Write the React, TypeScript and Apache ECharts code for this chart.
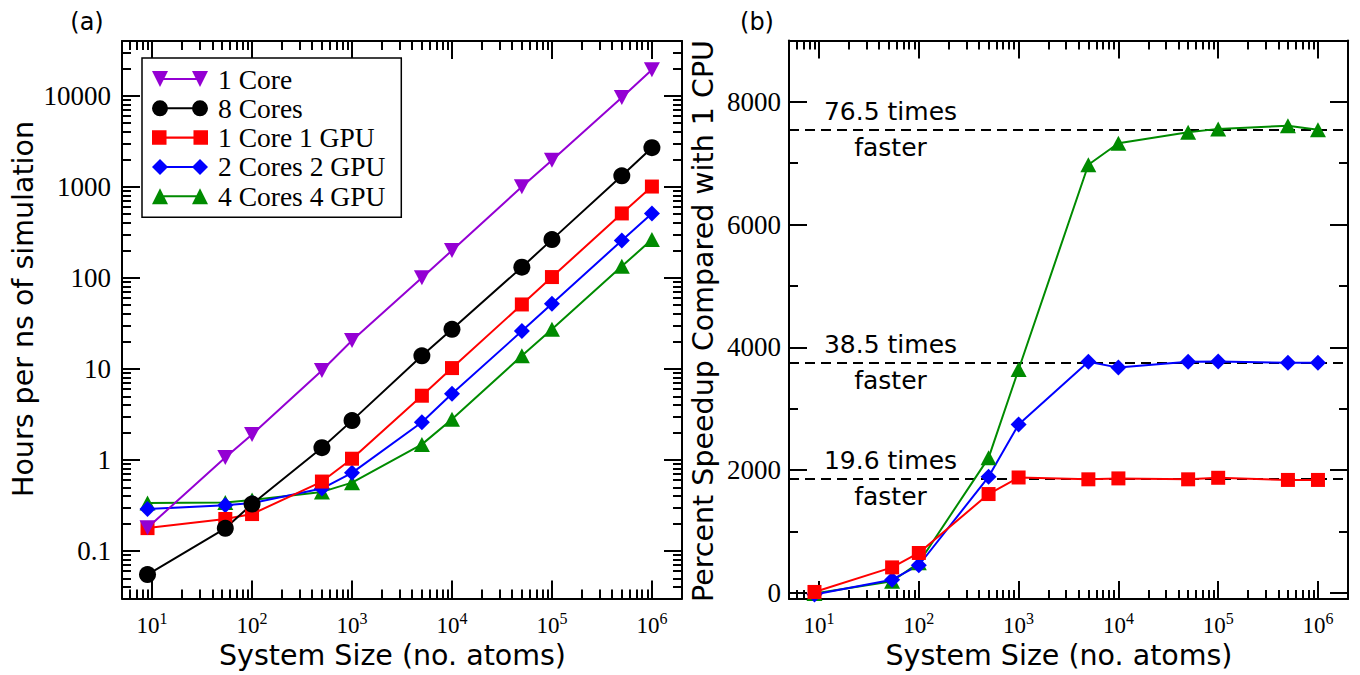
import React, { useEffect, useRef } from 'react';
import * as echarts from 'echarts';

// ---------------- data ----------------
const systemSizes = [9, 54, 100, 500, 1000, 5000, 10000, 50000, 100000, 500000, 1000000];

const seriesNames = ['1 Core', '8 Cores', '1 Core 1 GPU', '2 Cores 2 GPU', '4 Cores 4 GPU'];

const hours1Core = [0.18, 1.06, 1.9, 9.6, 20.5, 100, 200, 1000, 1960, 9600, 19300];
const hours8Cores = [0.055, 0.177, 0.327, 1.36, 2.7, 13.9, 27.2, 131, 263, 1320, 2690];
const hours1Core1Gpu = [0.178, 0.224, 0.254, 0.578, 1.03, 5.07, 10.2, 51, 102, 510, 1007];
const hours2Cores2Gpu = [0.288, 0.318, 0.335, 0.484, 0.72, 2.59, 5.33, 26, 52, 257, 510];
const hours4Cores4Gpu = [0.335, 0.34, 0.363, 0.445, 0.562, 1.48, 2.8, 13.9, 27.2, 134, 263];

const speedup1Core1Gpu = [15, 415, 650, 1610, 1880, 1850, 1865, 1850, 1875, 1840, 1840];
const speedup2Cores2Gpu = [-25, 215, 450, 1890, 2745, 3765, 3670, 3765, 3770, 3750, 3750];
const speedup4Cores4Gpu = [-10, 190, 490, 2200, 3640, 6975, 7325, 7505, 7560, 7612, 7545];

const plateauLevels = [7550, 3750, 1860];
const plateauLabels = ['76.5 times', '38.5 times', '19.6 times'];
const plateauLabelX = 52;

const xMajorTicks = [10, 100, 1000, 10000, 100000, 1000000];
const yMajorTicksA = [0.1, 1, 10, 100, 1000, 10000];
const yMajorTicksB = [0, 2000, 4000, 6000, 8000];
const yMinorTicksB = [1000, 3000, 5000, 7000, 9000];

const X_MIN = 5;
const X_MAX = 2e6;
const YA_MIN = 0.03;
const YA_MAX = 40000;
const YB_MIN = -100;
const YB_MAX = 9000;

// ---------------- styling ----------------
const SERIF = 'Liberation Serif';
const SANS = 'DejaVu Sans';
const colors = ['#9400d3', '#000000', '#ff0000', '#0000ff', '#008b00'];

const legendIcons = [
  'path://M0,0L16,0L8,16ZM8,7H48V9H8ZM40,0L56,0L48,16Z',
  'path://M0,8A8,8,0,1,1,16,8A8,8,0,1,1,0,8ZM8,7H48V9H8ZM40,8A8,8,0,1,1,56,8A8,8,0,1,1,40,8Z',
  'path://M1,1H15V15H1ZM8,7H48V9H8ZM41,1H55V15H41Z',
  'path://M0,8L8,0L16,8L8,16ZM8,7H48V9H8ZM40,8L48,0L56,8L48,16Z',
  'path://M0,16L8,0L16,16ZM8,7H48V9H8ZM40,16L48,0L56,16Z',
];

function logMinorTicks(min: number, max: number): number[] {
  const out: number[] = [];
  const e0 = Math.floor(Math.log10(min));
  const e1 = Math.ceil(Math.log10(max));
  for (let e = e0; e <= e1; e++) {
    for (let k = 2; k <= 9; k++) {
      const v = Number((k * Math.pow(10, e)).toPrecision(6));
      if (v >= min * 0.9999 && v <= max * 1.0001) out.push(v);
    }
  }
  return out;
}

const xMinorTicks = logMinorTicks(X_MIN, X_MAX);
const yMinorTicksA = logMinorTicks(YA_MIN, YA_MAX);

const tickLine = { color: '#000', width: 2 };

function makeAxes(
  gridIndex: number,
  base: any,
  majorTicks: number[],
  minorTicks: number[],
  positions: string[],
  label: any
) {
  const axes: any[] = [];
  positions.forEach((position, pi) => {
    axes.push({
      ...base,
      gridIndex,
      position,
      axisLine: { show: true, onZero: false, lineStyle: { color: '#000', width: 2 } },
      axisTick: { show: true, inside: true, length: 18, customValues: majorTicks, lineStyle: tickLine },
      axisLabel: pi === 0 ? { ...label, show: true, customValues: majorTicks } : { show: false },
      splitLine: { show: false },
      minorTick: { show: false },
      axisPointer: { show: false },
    });
    axes.push({
      ...base,
      gridIndex,
      position,
      axisLine: { show: false, onZero: false },
      axisTick: { show: true, inside: true, length: 9, customValues: minorTicks, lineStyle: tickLine },
      axisLabel: { show: false },
      splitLine: { show: false },
      minorTick: { show: false },
      axisPointer: { show: false },
    });
  });
  return axes;
}

const xLabel = {
  margin: 11.5,
  formatter: (v: number) => `{b|10}{s|${Math.round(Math.log10(v))}}`,
  rich: {
    b: { fontFamily: SERIF, fontSize: 23, color: '#000', lineHeight: 30 },
    s: { fontFamily: SERIF, fontSize: 16, color: '#000', lineHeight: 14, verticalAlign: 'top' },
  },
};

const yLabelA = {
  margin: 11,
  fontFamily: SERIF,
  fontSize: 27,
  color: '#000',
  formatter: (v: number) => String(Math.round(v * 1000) / 1000),
};

const yLabelB = {
  margin: 8,
  fontFamily: SERIF,
  fontSize: 27,
  color: '#000',
  formatter: (v: number) => String(Math.round(v)),
};

function lineSeries(
  name: string,
  values: number[],
  color: string,
  symbol: string,
  symbolSize: any,
  symbolRotate: number,
  axisIndex: number
) {
  return {
    type: 'line',
    name,
    xAxisIndex: axisIndex,
    yAxisIndex: axisIndex,
    data: systemSizes.map((x, i) => [x, values[i]]),
    symbol,
    symbolSize,
    symbolRotate,
    showSymbol: true,
    showAllSymbol: true,
    lineStyle: { color, width: 2 },
    itemStyle: { color, borderWidth: 0 },
    emphasis: { disabled: true },
    z: 2,
  };
}

function buildOption(): any {
  const xBase = { type: 'log', logBase: 10, min: X_MIN, max: X_MAX };
  const yBaseA = { type: 'log', logBase: 10, min: YA_MIN, max: YA_MAX };
  const yBaseB = { type: 'value', min: YB_MIN, max: YB_MAX };

  const xAxes = [
    ...makeAxes(0, xBase, xMajorTicks, xMinorTicks, ['bottom', 'top'], xLabel),
    ...makeAxes(1, xBase, xMajorTicks, xMinorTicks, ['bottom', 'top'], xLabel),
  ];
  const yAxes = [
    ...makeAxes(0, yBaseA, yMajorTicksA, yMinorTicksA, ['left', 'right'], yLabelA),
    ...makeAxes(1, yBaseB, yMajorTicksB, yMinorTicksB, ['left', 'right'], yLabelB),
  ];
  // axis indices: grid 0 -> 0..3, grid 1 -> 4..7 ; first of each group carries labels
  const leftSeries = [
    lineSeries(seriesNames[4], hours4Cores4Gpu, colors[4], 'triangle', [16, 15], 0, 0),
    lineSeries(seriesNames[3], hours2Cores2Gpu, colors[3], 'diamond', 16, 0, 0),
    lineSeries(seriesNames[2], hours1Core1Gpu, colors[2], 'rect', 14, 0, 0),
    lineSeries(seriesNames[1], hours8Cores, colors[1], 'circle', 17, 0, 0),
    lineSeries(seriesNames[0], hours1Core, colors[0], 'triangle', [16, 15], 180, 0),
  ];

  const green = lineSeries('Speedup ' + seriesNames[4], speedup4Cores4Gpu, colors[4], 'triangle', [16, 15], 0, 4);
  const blue = lineSeries('Speedup ' + seriesNames[3], speedup2Cores2Gpu, colors[3], 'diamond', 16, 0, 4);
  const red: any = lineSeries('Speedup ' + seriesNames[2], speedup1Core1Gpu, colors[2], 'rect', 14, 0, 4);
  red.markLine = {
    silent: true,
    z: 1,
    symbol: ['none', 'none'],
    lineStyle: { color: '#000', width: 2, type: [10, 6] },
    label: { show: false },
    emphasis: { disabled: true },
    data: plateauLevels.map((v) => ({ yAxis: v })),
  };
  red.markPoint = {
    silent: true,
    symbol: 'circle',
    symbolSize: 0,
    itemStyle: { color: 'rgba(0,0,0,0)' },
    label: {
      show: true,
      position: 'inside',
      color: '#000',
      fontFamily: SANS,
      fontSize: 25,
      lineHeight: 36,
      align: 'center',
      textBorderWidth: 0,
    },
    data: plateauLevels.map((v, i) => ({
      coord: [plateauLabelX, v],
      value: v,
      label: { formatter: plateauLabels[i] + '\nfaster' },
    })),
  };

  const titleStyle = {
    fontFamily: SANS,
    fontSize: 28.5,
    lineHeight: 20,
    fill: '#000',
    align: 'center',
    verticalAlign: 'middle',
  };

  return {
    animation: false,
    backgroundColor: '#ffffff',
    grid: [
      { left: 122, top: 41, width: 560, height: 557.5, containLabel: false, outerBoundsMode: 'none' },
      { left: 789, top: 40.5, width: 559, height: 558.5, containLabel: false, outerBoundsMode: 'none' },
    ],
    xAxis: xAxes,
    yAxis: yAxes,
    legend: {
      show: true,
      orient: 'vertical',
      left: 142,
      top: 58,
      data: seriesNames.map((n, i) => ({ name: n, icon: legendIcons[i] })),
      itemWidth: 56,
      itemHeight: 16,
      itemGap: 1.3,
      padding: [7, 16, 7, 10],
      borderColor: '#000',
      borderWidth: 1.5,
      borderRadius: 0,
      backgroundColor: '#ffffff',
      selectedMode: false,
      textStyle: { fontFamily: SERIF, fontSize: 27.5, color: '#000', padding: [0, 0, 0, 5] },
    },
    series: [...leftSeries, green, blue, red],
    graphic: [
      { type: 'text', x: 87, y: 22, style: { ...titleStyle, text: '(a)', fontSize: 24 } },
      { type: 'text', x: 757, y: 22, style: { ...titleStyle, text: '(b)', fontSize: 24 } },
      { type: 'text', x: 392.5, y: 655.5, style: { ...titleStyle, text: 'System Size (no. atoms)' } },
      { type: 'text', x: 1059, y: 655.5, style: { ...titleStyle, text: 'System Size (no. atoms)' } },
      { type: 'text', x: 23, y: 309, rotation: Math.PI / 2, style: { ...titleStyle, text: 'Hours per ns of simulation' } },
      {
        type: 'text',
        x: 703,
        y: 321,
        rotation: Math.PI / 2,
        style: { ...titleStyle, text: 'Percent Speedup Compared with 1 CPU' },
      },
    ],
  };
}

export default function App() {
  const ref = useRef<HTMLDivElement>(null);
  useEffect(() => {
    if (!ref.current) return;
    const chart = echarts.init(ref.current, undefined, { renderer: 'svg' });
    chart.setOption(buildOption());
    return () => {
      chart.dispose();
    };
  }, []);
  return (
    <div
      ref={ref}
      style={{ position: 'absolute', left: 0, top: 0, width: 1360, height: 675, background: '#fff' }}
    />
  );
}
